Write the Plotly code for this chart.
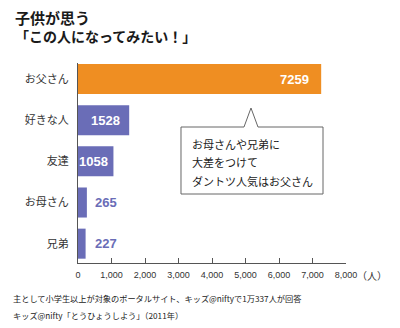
import plotly.graph_objects as go

# ---- data ----
categories = ["お父さん", "好きな人", "友達", "お母さん", "兄弟"]
values = [7259, 1528, 1058, 265, 227]
x_ticks = [0, 1000, 2000, 3000, 4000, 5000, 6000, 7000, 8000]
title_lines = ["子供が思う", "「この人になってみたい！」"]
callout_lines = ["お母さんや兄弟に", "大差をつけて", "ダントツ人気はお父さん"]
footnotes = ["主として小学生以上が対象のポータルサイト、キッズ@niftyで1万337人が回答",
             "キッズ@nifty「とうひょうしよう」（2011年）"]
unit_label = "（人）"

# ---- style ----
W, H = 400, 328
ML, MR, MT, MB = 78, 54, 63, 65
ORANGE = "#EF8E22"
BLUE = "#6A6DB7"
bar_colors = [ORANGE, BLUE, BLUE, BLUE, BLUE]
label_inside = [True, True, True, False, False]
label_shift = [-10, -7, -3, 6, 7]
JP = "Noto Sans CJK JP"
NUM = "Liberation Sans, Arial, sans-serif"

pw = W - ML - MR
ph = H - MT - MB


def px(x):
    return (x - ML) / pw


def py(y):
    return (H - MB - y) / ph


fig = go.Figure()
fig.add_trace(go.Bar(
    x=values, y=categories, orientation="h",
    marker=dict(color=bar_colors, line=dict(width=0)),
    width=0.73, hoverinfo="skip",
))

annotations = []
for v, c, ins, sh in zip(values, categories, label_inside, label_shift):
    annotations.append(dict(
        x=v, y=c, xref="x", yref="y", text=f"<b>{v}</b>", showarrow=False,
        xanchor="right" if ins else "left", xshift=sh, yanchor="middle",
        font=dict(family=NUM, size=13, color="white" if ins else BLUE),
    ))

# title
title_sizes = [15, 14]
for i, t in enumerate(title_lines):
    annotations.append(dict(
        x=px(13), y=py(17 + 19 * i), xref="paper", yref="paper", text=f"<b>{t}</b>",
        showarrow=False, xanchor="left", yanchor="middle",
        font=dict(family=JP, size=title_sizes[i], color="#1a1a1a"),
    ))

# callout text
for i, t in enumerate(callout_lines):
    annotations.append(dict(
        x=px(190), y=py(144 + 18.3 * i), xref="paper", yref="paper", text=t,
        showarrow=False, xanchor="left", yanchor="middle",
        font=dict(family=JP, size=11, color="#222"),
    ))

# unit label
annotations.append(dict(
    x=px(355), y=py(275), xref="paper", yref="paper", text=unit_label,
    showarrow=False, xanchor="left", yanchor="middle",
    font=dict(family=JP, size=10, color="#333"),
))

# footnotes
for i, t in enumerate(footnotes):
    annotations.append(dict(
        x=px(11), y=py(298 + 16.5 * i), xref="paper", yref="paper", text=t,
        showarrow=False, xanchor="left", yanchor="middle",
        font=dict(family=JP, size=8.2, color="#222"),
    ))

# callout box path
pts = [(181, 127), (244, 127), (251, 108), (258, 127), (323, 127), (323, 194), (181, 194)]
path = "M " + " L ".join(f"{px(a):.4f},{py(b):.4f}" for a, b in pts) + " Z"
shapes = [dict(type="path", xref="paper", yref="paper", path=path,
               line=dict(color="#666", width=1), fillcolor="white", layer="above")]

fig.update_layout(
    width=W, height=H,
    margin=dict(l=ML, r=MR, t=MT, b=MB, pad=0),
    paper_bgcolor="white", plot_bgcolor="white",
    showlegend=False,
    annotations=annotations, shapes=shapes,
    xaxis=dict(range=[0, 8000], tickvals=x_ticks, tickformat=",d",
               showgrid=False, zeroline=False, showline=True, linecolor="#555", linewidth=1,
               ticks="inside", ticklen=5, tickcolor="#555", tickwidth=1, ticklabelstandoff=3,
               tickfont=dict(family="Liberation Sans, Arial, sans-serif", size=9, color="#333"),
               fixedrange=True),
    yaxis=dict(categoryorder="array", categoryarray=categories, range=[4.47, -0.39],
               showgrid=False, zeroline=False, showline=True, linecolor="#555", linewidth=1,
               ticks="", ticklabelstandoff=6,
               tickfont=dict(family=JP, size=11, color="#333"), fixedrange=True),
)

fig.write_html("out.html", config={"displayModeBar": False})
